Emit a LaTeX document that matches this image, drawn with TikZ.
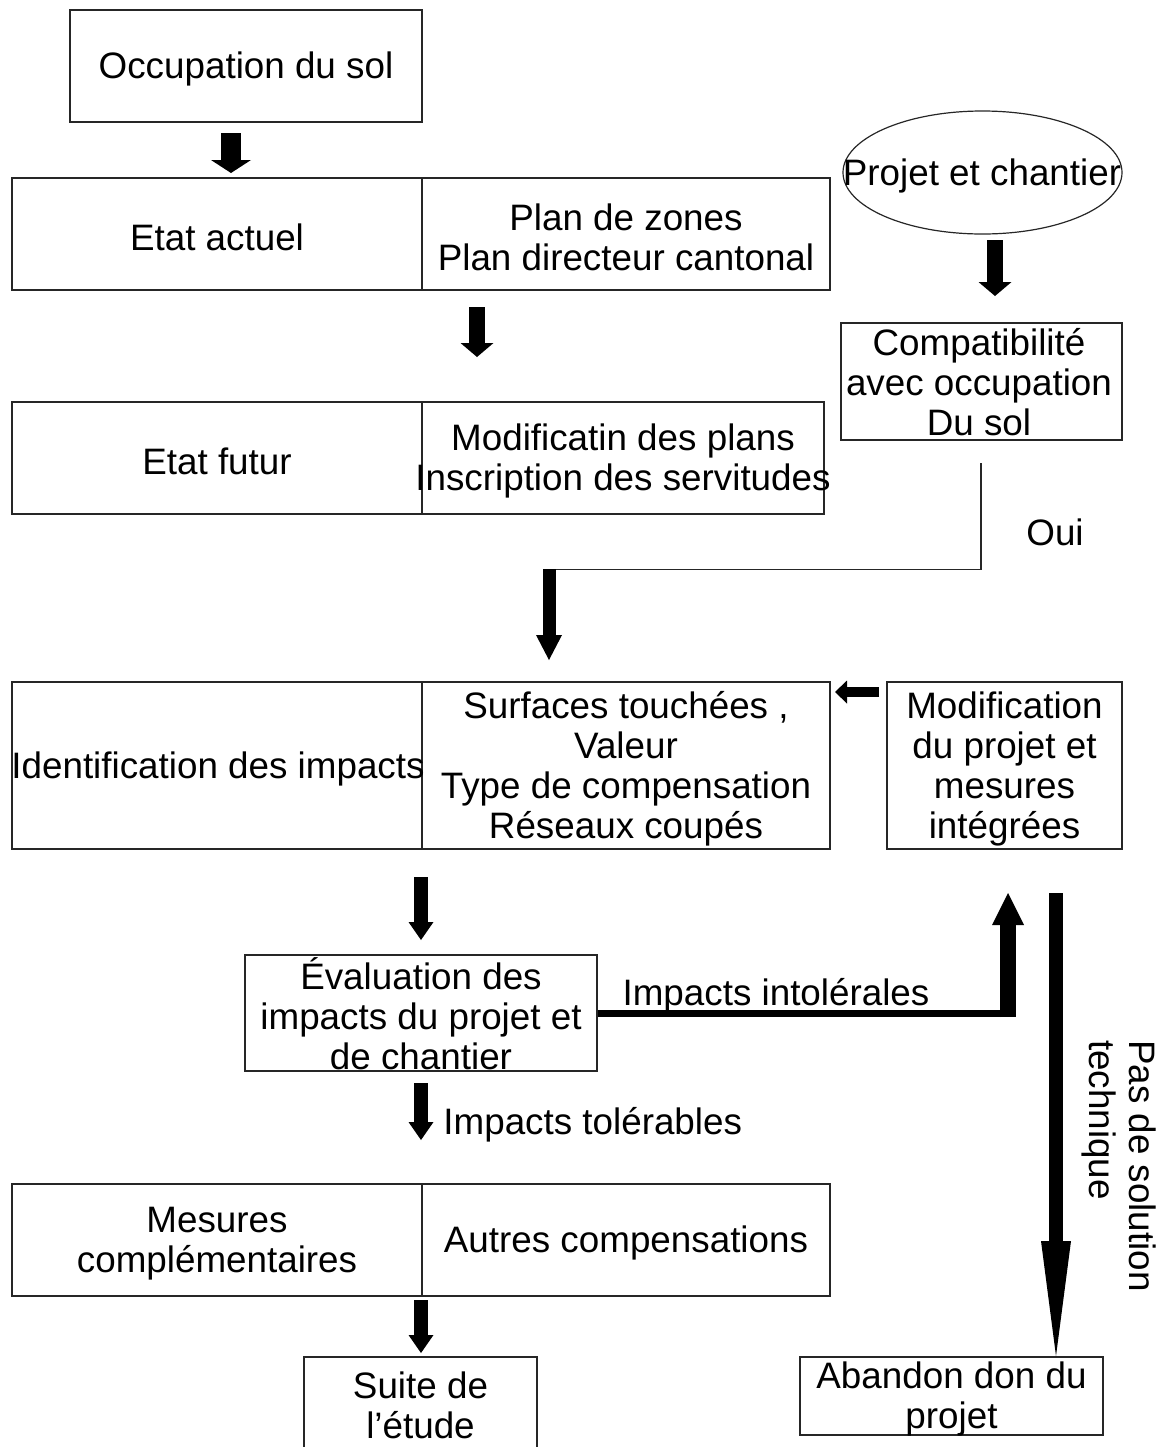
\documentclass[tikz,border=0pt]{standalone}
\usepackage{fontspec}
\setmainfont{Liberation Sans}
\usetikzlibrary{arrows.meta,shapes.geometric}
\begin{document}
\begin{tikzpicture}[x=0.5pt,y=-0.5pt,
  box/.style={draw=black!85, line width=0.6pt, inner sep=0pt, rectangle},
  oval/.style={draw=black!85, line width=0.6pt, inner sep=0pt, ellipse},
  txt/.style={inner sep=0pt, align=center, yshift=-1.6pt, font=\fontsize{18.4}{20}\selectfont},
  arrA/.style={line width=8pt, -{Triangle[width=16.5pt,length=7pt,line width=0pt]}},
  arrB/.style={line width=7pt, -{Triangle[width=12.5pt,length=9pt,line width=0pt]}},
  arrTop/.style={line width=10pt, -{Triangle[width=20pt,length=6.5pt,line width=0pt]}},
  arrOui/.style={line width=6.5pt, -{Triangle[width=13pt,length=12.5pt,line width=0pt]}},
  arrLeft/.style={line width=5pt, -{Triangle[width=11.5pt,length=6pt,line width=0pt]}},
  arrUp/.style={line width=8pt, -{Triangle[width=16pt,length=16pt,line width=0pt]}},
  arrBig/.style={line width=7pt, -{Triangle[width=15pt,length=57.5pt,line width=0pt]}},
  thin/.style={draw=black!85, line width=0.6pt}
]
\useasboundingbox (0,0) rectangle (1168,1447);

% boxes
\node[box, minimum width=176pt, minimum height=56pt] (occ) at (246,66) {};
\node[box, minimum width=205pt, minimum height=56pt] (eaL) at (217,234) {};
\node[box, minimum width=204pt, minimum height=56pt] (eaR) at (626,234) {};
\node[oval, minimum width=139.5pt, minimum height=61.5pt] (proj) at (982.5,172.5) {};
\node[box, minimum width=140.5pt, minimum height=58.5pt] (comp) at (981.5,381.5) {};
\node[box, minimum width=205pt, minimum height=56pt] (efL) at (217,458) {};
\node[box, minimum width=201pt, minimum height=56pt] (efR) at (623,458) {};
\node[box, minimum width=205pt, minimum height=83.5pt] (idL) at (217,765.5) {};
\node[box, minimum width=204pt, minimum height=83.5pt] (idR) at (626,765.5) {};
\node[box, minimum width=117.5pt, minimum height=83.5pt] (mod) at (1004.5,765.5) {};
\node[box, minimum width=176pt, minimum height=58pt] (eval) at (421,1013) {};
\node[box, minimum width=205pt, minimum height=56pt] (mesL) at (217,1240) {};
\node[box, minimum width=204pt, minimum height=56pt] (mesR) at (626,1240) {};
\node[box, minimum width=116.5pt, minimum height=48pt] (suite) at (420.5,1405) {};
\node[box, minimum width=151.5pt, minimum height=39pt] (aband) at (951.5,1396) {};

% texts
\node[txt] (tocc) at (occ) {Occupation du sol};
\node[txt] (teaL) at (eaL) {Etat actuel};
\node[txt] (teaR) at (eaR) {Plan de zones\\Plan directeur cantonal};
\node[txt] (tproj) at (982,173) {Projet et chantier};
\node[txt, yshift=1.6pt] (tcomp) at (979,382) {Compatibilité\\avec occupation\\Du sol};
\node[txt] (tefL) at (efL) {Etat futur};
\node[txt] (tefR) at (efR) {Modificatin des plans\\Inscription des servitudes};
\node[txt] (tidL) at (218,765.5) {Identification des impacts};
\node[txt] (tidR) at (idR) {Surfaces touchées ,\\Valeur\\Type de compensation\\Réseaux coupés};
\node[txt] (tmod) at (1004.5,765.5) {Modification\\du projet et\\mesures\\intégrées};
\node[txt, yshift=1pt] (teval) at (eval) {Évaluation des\\impacts du projet et\\de chantier};
\node[txt] (tmesL) at (mesL) {Mesures\\complémentaires};
\node[txt] (tmesR) at (mesR) {Autres compensations};
\node[txt, yshift=1.6pt] (tsuite) at (suite) {Suite de\\l’étude};
\node[txt] (taband) at (aband) {Abandon don du\\projet};

\node[txt] (loui) at (1055,529) {Oui};
\node[txt] (lintol) at (776,993) {Impacts intolérales};
\node[txt, anchor=west] (ltol) at (443,1122) {Impacts tolérables};
\node[inner sep=0pt, font=\fontsize{18.4}{20}\selectfont, align=left, rotate=-90] (lpas) at (1119,1166) {Pas de solution\\technique};

% connector coordinates
\coordinate (a1s) at (231,133); \coordinate (a1e) at (231,173);
\coordinate (a2s) at (477,307); \coordinate (a2e) at (477,357);
\coordinate (a3s) at (995,240); \coordinate (a3e) at (995,296);
\coordinate (o1) at (981,463); \coordinate (o2) at (981,569.5); \coordinate (o3) at (549,569.5);
\coordinate (o4) at (549,569); \coordinate (o5) at (549,660);
\coordinate (l1) at (879,692); \coordinate (l2) at (835,692);
\coordinate (d1s) at (421,877); \coordinate (d1e) at (421,940);
\coordinate (h1) at (1008,1013.5);
\coordinate (u1) at (1008,1017); \coordinate (u2) at (1008,893);
\coordinate (b1) at (1056,893); \coordinate (b2) at (1056,1356);
\coordinate (d2s) at (421,1083); \coordinate (d2e) at (421,1140);
\coordinate (d3s) at (421,1300); \coordinate (d3e) at (421,1353);

% connectors
\draw[arrTop] (a1s) -- (a1e);
\draw[arrA] (a2s) -- (a2e);
\draw[arrA] (a3s) -- (a3e);
\draw[thin] (o1) -- (o2) -- (o3);
\draw[arrOui] (o4) -- (o5);
\draw[arrLeft] (l1) -- (l2);
\draw[arrB] (d1s) -- (d1e);
\draw[line width=3.5pt] (eval.east |- h1) -- (h1);
\draw[arrUp] (u1) -- (u2);
\draw[arrBig] (b1) -- (b2);
\draw[arrB] (d2s) -- (d2e);
\draw[arrB] (d3s) -- (d3e);
\end{tikzpicture}
\end{document}
